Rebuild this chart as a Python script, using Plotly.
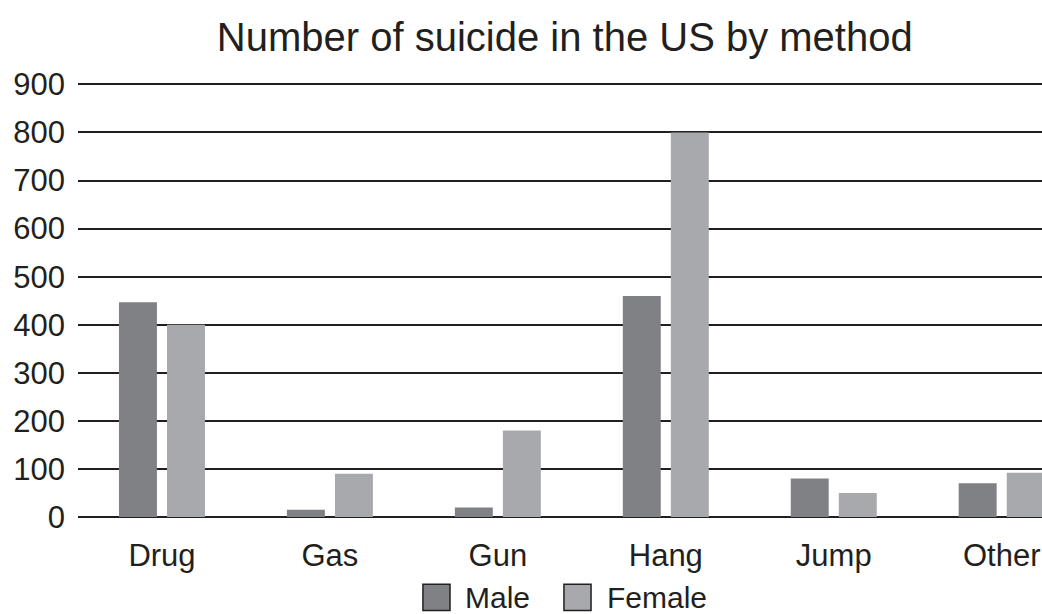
import plotly.graph_objects as go

categories = ["Drug", "Gas", "Gun", "Hang", "Jump", "Other"]
male = [447, 15, 20, 460, 80, 70]
female = [400, 90, 180, 800, 50, 92]
y_ticks = [0, 100, 200, 300, 400, 500, 600, 700, 800, 900]
series_names = ["Male", "Female"]

FONT = "Liberation Sans, Arial, Helvetica, sans-serif"
MALE_C = "#808185"
FEMALE_C = "#A8A9AD"
INK = "#231f20"

fig = go.Figure()
fig.add_trace(go.Bar(x=categories, y=male, name=series_names[0], showlegend=False,
                     marker=dict(color=MALE_C, line=dict(width=0))))
fig.add_trace(go.Bar(x=categories, y=female, name=series_names[1], showlegend=False,
                     marker=dict(color=FEMALE_C, line=dict(width=0))))

# Legend drawn as outlined squares + text labels below the plot (paper coords)
legend_items = [
    (series_names[0], MALE_C, 0.3578, 0.3859, 0.3994),
    (series_names[1], FEMALE_C, 0.5041, 0.5322, 0.5467),
]
for name, col, x0, x1, xt in legend_items:
    fig.add_shape(type="rect", xref="paper", yref="paper", x0=x0, x1=x1,
                  y0=-0.2150, y1=-0.1545, fillcolor=col,
                  line=dict(color=INK, width=1.5), layer="above")
    fig.add_annotation(xref="paper", yref="paper", x=xt, y=-0.1850, text=name,
                       showarrow=False, xanchor="left", yanchor="middle",
                       font=dict(size=30, color=INK, family=FONT))

fig.update_layout(
    width=1042, height=614,
    margin=dict(l=78, r=0, t=82, b=97, autoexpand=False),
    paper_bgcolor="white", plot_bgcolor="white",
    barmode="group", bargap=0.428, bargroupgap=0.21,
    font=dict(family=FONT, color=INK, size=31),
    title=dict(text="Number of suicide in the US by method", x=0.542, xanchor="center",
               y=0.94, yanchor="middle", font=dict(size=40, color=INK)),
    showlegend=False,
    xaxis=dict(range=[-0.5, 5.24], showgrid=False, showline=False, ticks="",
               tickfont=dict(size=31), ticklabelstandoff=17),
    yaxis=dict(range=[0, 905], tickvals=y_ticks, showgrid=True, gridcolor=INK,
               gridwidth=2, zeroline=True, zerolinecolor=INK, zerolinewidth=2,
               showline=False, ticks="", tickfont=dict(size=31), ticklabelstandoff=12),
)
fig.write_html("out.html")
